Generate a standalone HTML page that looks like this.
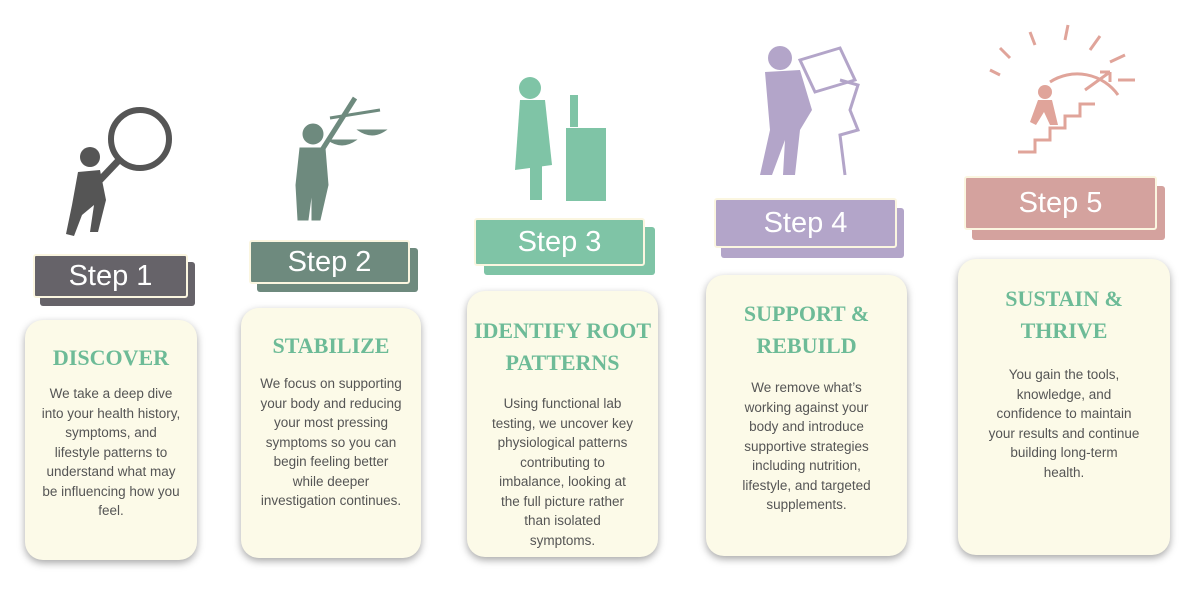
<!DOCTYPE html>
<html><head><meta charset="utf-8"><style>
*{margin:0;padding:0;box-sizing:border-box}
body{width:1200px;height:594px;background:#fff;position:relative;overflow:hidden;font-family:"Liberation Sans",sans-serif}
.b{position:absolute;color:#fff;font-size:29px;text-align:center;border:2px solid #fbf6e0;border-radius:3px}
.s{position:absolute;border-radius:3px}
.c{position:absolute;background:#fcfae8;border-radius:18px;box-shadow:0 3px 8px rgba(0,0,0,.35);text-align:center;color:#555}
.c h2{font-family:"Liberation Serif",serif;font-weight:bold;color:#6dbb97;font-size:22px;line-height:32px}
.c p{font-size:13.5px;line-height:19.5px;margin-top:14px;white-space:nowrap}
</style></head><body>
<svg width="1200" height="594" style="position:absolute;left:0;top:0">
<g fill="#555">
<circle cx="140" cy="139" r="29" fill="none" stroke="#555" stroke-width="6"/>
<line x1="119" y1="160" x2="100" y2="180" stroke="#555" stroke-width="7"/>
<circle cx="90" cy="157" r="10"/>
<path d="M78 172 L100 170 L106 200 L98 232 L90 232 L94 205 L82 215 L74 236 L66 234 L72 205 Z"/>
</g>
<g fill="#6e8a7e" stroke="#6e8a7e">
<circle cx="313" cy="134" r="10"/>
<path d="M300 148 L325 148 L328 185 L320 220 L312 220 L312 190 L308 220 L298 220 L296 185 Z"/>
<line x1="322" y1="150" x2="355" y2="98" stroke-width="5"/>
<line x1="330" y1="118" x2="380" y2="110" stroke-width="3"/>
<path d="M328 140 Q342 150 356 140 Z M358 130 Q372 140 386 130 Z"/>
</g>
<g fill="#7fc4a6">
<circle cx="530" cy="88" r="11"/>
<path d="M520 100 L545 100 L552 165 L515 170 Z"/>
<rect x="530" y="165" width="12" height="35"/>
<rect x="566" y="128" width="40" height="73"/>
<rect x="570" y="95" width="8" height="32"/>
</g>
<g fill="#b3a5c9">
<circle cx="780" cy="58" r="12"/>
<path d="M765 72 L800 70 L812 110 L800 130 L795 175 L783 175 L785 140 L772 175 L760 175 L770 130 Z"/>
<path d="M800 60 L840 48 L855 80 L815 92 Z" fill="none" stroke="#b3a5c9" stroke-width="3"/>
<path d="M840 80 L858 85 L850 110 L858 130 L840 135 L845 175" fill="none" stroke="#b3a5c9" stroke-width="3"/>
</g>
<g stroke="#e0a49a" stroke-width="3" fill="none">
<path d="M1018 152 L1035 152 L1035 140 L1050 140 L1050 128 L1065 128 L1065 116 L1080 116 L1080 104 L1095 104"/>
<path d="M1085 90 L1110 72 M1110 72 L1100 72 M1110 72 L1110 82"/>
<path d="M1000 75 L990 70 M1010 58 L1000 48 M1035 45 L1030 32 M1065 40 L1068 25 M1090 50 L1100 36 M1110 62 L1125 55 M1118 80 L1135 80"/>
<path d="M1050 82 A50 50 0 0 1 1118 95"/>
</g>
<g fill="#e0a49a"><circle cx="1045" cy="92" r="7"/><path d="M1038 100 L1052 100 L1058 125 L1050 125 L1044 112 L1036 125 L1030 122 Z"/></g>
</svg>

<div class="s" style="left:40px;top:262px;width:155px;height:44px;background:#666369"></div>
<div class="b" style="left:33px;top:254px;width:155px;height:44px;line-height:40px;background:#666369">Step 1</div>
<div class="s" style="left:257px;top:248px;width:161px;height:44px;background:#6e8a7e"></div>
<div class="b" style="left:249px;top:240px;width:161px;height:44px;line-height:40px;background:#6e8a7e">Step 2</div>
<div class="s" style="left:484px;top:227px;width:171px;height:48px;background:#7fc4a6"></div>
<div class="b" style="left:474px;top:218px;width:171px;height:48px;line-height:44px;background:#7fc4a6">Step 3</div>
<div class="s" style="left:721px;top:208px;width:183px;height:50px;background:#b3a5c9"></div>
<div class="b" style="left:714px;top:198px;width:183px;height:50px;line-height:46px;background:#b3a5c9">Step 4</div>
<div class="s" style="left:972px;top:186px;width:193px;height:54px;background:#d4a29e"></div>
<div class="b" style="left:964px;top:176px;width:193px;height:54px;line-height:50px;background:#d4a29e">Step 5</div>

<div class="c" style="left:25px;top:320px;width:172px;height:240px;padding:22px 0 0"><h2>DISCOVER</h2><p style="margin-top:10px">We take a deep dive<br>into your health history,<br>symptoms, and<br>lifestyle patterns to<br>understand what may<br>be influencing how you<br>feel.</p></div>
<div class="c" style="left:241px;top:308px;width:180px;height:250px;padding:22px 0 0"><h2>STABILIZE</h2><p style="margin-top:12px">We focus on supporting<br>your body and reducing<br>your most pressing<br>symptoms so you can<br>begin feeling better<br>while deeper<br>investigation continues.</p></div>
<div class="c" style="left:467px;top:291px;width:191px;height:266px;padding:24px 0 0"><h2>IDENTIFY ROOT PATTERNS</h2><p style="margin-top:15px">Using functional lab<br>testing, we uncover key<br>physiological patterns<br>contributing to<br>imbalance, looking at<br>the full picture rather<br>than isolated<br>symptoms.</p></div>
<div class="c" style="left:706px;top:275px;width:201px;height:281px;padding:23px 0 0"><h2>SUPPORT &amp;<br>REBUILD</h2><p style="margin-top:16px">We remove what’s<br>working against your<br>body and introduce<br>supportive strategies<br>including nutrition,<br>lifestyle, and targeted<br>supplements.</p></div>
<div class="c" style="left:958px;top:259px;width:212px;height:296px;padding:24px 0 0"><h2>SUSTAIN &amp;<br>THRIVE</h2><p style="margin-top:18px">You gain the tools,<br>knowledge, and<br>confidence to maintain<br>your results and continue<br>building long-term<br>health.</p></div>
</body></html>
